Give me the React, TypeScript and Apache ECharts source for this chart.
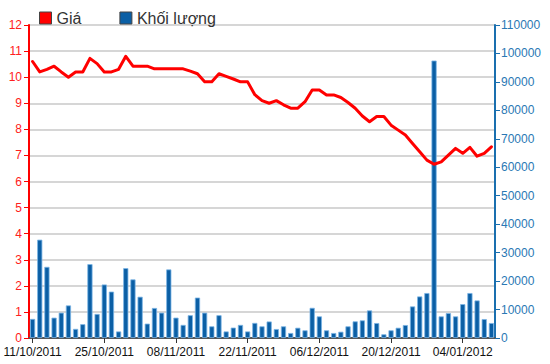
import React, { useEffect, useRef } from "react";
import * as echarts from "echarts";

const dates: string[] = [
  "11/10/2011", "12/10/2011", "13/10/2011", "14/10/2011", "17/10/2011", "18/10/2011", "19/10/2011", "20/10/2011",
  "21/10/2011", "24/10/2011", "25/10/2011", "26/10/2011", "27/10/2011", "28/10/2011", "31/10/2011",
  "01/11/2011", "02/11/2011", "03/11/2011", "04/11/2011", "07/11/2011", "08/11/2011", "09/11/2011", "10/11/2011",
  "11/11/2011", "14/11/2011", "15/11/2011", "16/11/2011", "17/11/2011", "18/11/2011", "21/11/2011", "22/11/2011",
  "23/11/2011", "24/11/2011", "25/11/2011", "28/11/2011", "29/11/2011", "30/11/2011",
  "01/12/2011", "02/12/2011", "05/12/2011", "06/12/2011", "07/12/2011", "08/12/2011", "09/12/2011", "12/12/2011",
  "13/12/2011", "14/12/2011", "15/12/2011", "16/12/2011", "19/12/2011", "20/12/2011", "21/12/2011", "22/12/2011",
  "23/12/2011", "26/12/2011", "27/12/2011", "28/12/2011", "29/12/2011", "30/12/2011",
  "03/01/2012", "04/01/2012", "05/01/2012", "06/01/2012", "09/01/2012", "10/01/2012",
];

const price: number[] = [
  10.6, 10.2, 10.3, 10.42, 10.2, 10.0, 10.2, 10.2, 10.72, 10.52,
  10.2, 10.2, 10.3, 10.8, 10.42, 10.42, 10.42, 10.32, 10.32, 10.32,
  10.32, 10.32, 10.23, 10.13, 9.82, 9.82, 10.13, 10.03, 9.93, 9.82,
  9.82, 9.33, 9.1, 9.0, 9.1, 8.94, 8.81, 8.81, 9.06, 9.51,
  9.51, 9.32, 9.32, 9.22, 9.03, 8.81, 8.51, 8.29, 8.49, 8.49,
  8.16, 7.97, 7.78, 7.46, 7.14, 6.82, 6.66, 6.75, 7.01, 7.27,
  7.08, 7.31, 6.97, 7.08, 7.33,
];

const volume: number[] = [
  6700, 34550, 25000, 7150, 8900, 11450, 3200, 4850, 25950, 8450,
  18800, 16300, 2300, 24550, 20600, 14500, 5050, 10550, 8900, 24100,
  7150, 4600, 8000, 14200, 8900, 4100, 8000, 2300, 3650, 4600,
  2300, 5300, 4100, 5800, 3150, 4100, 1750, 3600, 2700, 10600,
  7600, 2700, 1750, 2200, 4100, 5850, 6200, 9700, 5250, 1300,
  2700, 3600, 4550, 11100, 14600, 15800, 97500, 7600, 8750, 7600,
  11900, 15800, 13200, 6650, 5250,
];

const FONT = "'Liberation Sans', Arial, sans-serif";

export default function App() {
  const ref = useRef<HTMLDivElement>(null);
  useEffect(() => {
    if (!ref.current) return;
    const chart = echarts.init(ref.current, null, { renderer: "svg" });
    chart.setOption({
      animation: false,
      backgroundColor: "#ffffff",
      textStyle: { fontFamily: FONT },
      legend: {
        left: 34,
        top: 5,
        itemWidth: 12,
        itemHeight: 12,
        itemGap: 38,
        textStyle: { fontSize: 16, color: "#333", fontFamily: FONT },
        data: [
          { name: "Giá", icon: "rect", itemStyle: { color: "#ff0000", borderColor: "#444", borderWidth: 1 } },
          { name: "Khối lượng", icon: "rect", itemStyle: { color: "#0b5fa5", borderColor: "#444", borderWidth: 1 } },
        ],
      },
      grid: { left: 29, right: 55, top: 25, bottom: 26, containLabel: false, outerBoundsMode: "none" },
      xAxis: [
        {
          type: "category",
          data: dates,
          boundaryGap: true,
          axisLine: { show: true, lineStyle: { color: "#777", width: 1 } },
          axisTick: { show: true, interval: 9, alignWithLabel: true, length: 5, lineStyle: { color: "#333" } },
          axisLabel: { interval: 9, color: "#111", fontSize: 12, fontFamily: FONT, margin: 8 },
          splitLine: { show: false },
        },
        {
          type: "category",
          position: "top",
          data: dates,
          axisLine: { show: true, lineStyle: { color: "#555", width: 2 } },
          axisTick: { show: false },
          axisLabel: { show: false },
        },
      ],
      yAxis: [
        {
          type: "value",
          min: 0,
          max: 12,
          interval: 1,
          position: "left",
          name: "Giá (nghìn đồng)",
          nameLocation: "middle",
          nameGap: 31,
          nameTextStyle: { color: "#ff0000", fontSize: 13, fontFamily: FONT },
          axisLine: { show: true, lineStyle: { color: "#ff0000", width: 2 } },
          axisTick: { show: true, length: 5, lineStyle: { color: "#ff0000" } },
          axisLabel: { color: "#ff2020", fontSize: 12, fontFamily: FONT, margin: 7 },
          splitLine: { show: true, lineStyle: { color: "#c8c8c8", width: 1.5 } },
        },
        {
          type: "value",
          min: 0,
          max: 110000,
          interval: 10000,
          position: "right",
          axisLine: { show: true, lineStyle: { color: "#1a6faf", width: 2 } },
          axisTick: { show: true, length: 5, lineStyle: { color: "#1a6faf" } },
          axisLabel: {
            color: "#2a78b4",
            fontSize: 12,
            fontFamily: FONT,
            margin: 6,
            formatter: (v: number) => String(v),
          },
          splitLine: { show: false },
        },
      ],
      series: [
        {
          name: "Khối lượng",
          type: "bar",
          yAxisIndex: 1,
          data: volume,
          barWidth: "72%",
          itemStyle: { color: "#0b5fa5", borderColor: "#7ab4e4", borderWidth: 0.8 },
          z: 1,
        },
        {
          name: "Giá",
          type: "line",
          yAxisIndex: 0,
          data: price,
          showSymbol: false,
          symbol: "none",
          lineStyle: { color: "#ff0000", width: 3, join: "round", cap: "round" },
          itemStyle: { color: "#ff0000" },
          z: 3,
        },
      ],
    });
    return () => chart.dispose();
  }, []);
  return (
    <div
      ref={ref}
      style={{ position: "fixed", left: 0, top: 0, width: 550, height: 364 }}
    />
  );
}
